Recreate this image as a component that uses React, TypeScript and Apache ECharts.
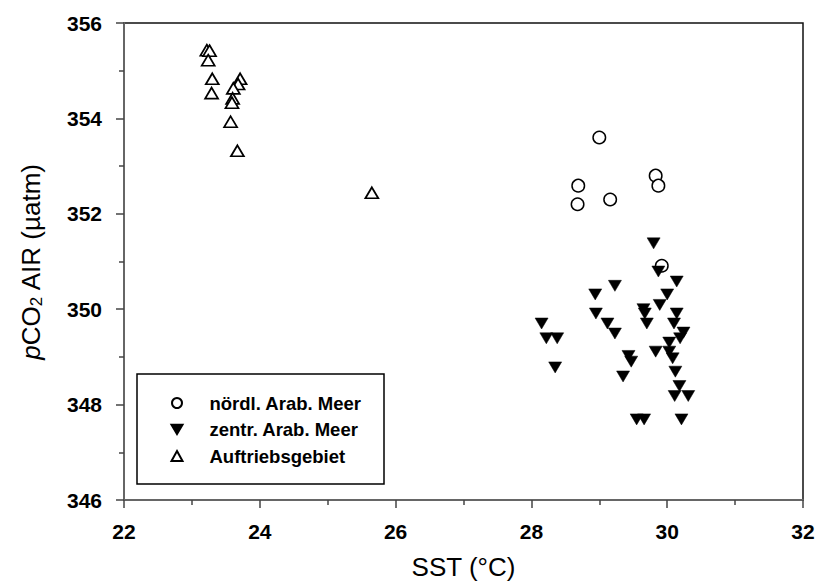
import React, { useEffect, useRef } from "react";
import * as echarts from "echarts";

const FONT = "'Liberation Sans', Arial, sans-serif";

// Series data: [SST (°C), pCO2 AIR (µatm)]
const nordlName = "nördl. Arab. Meer";
const nordlData: number[][] = [
  [29.0, 353.6],
  [28.69, 352.59],
  [28.68, 352.2],
  [29.16, 352.3],
  [29.83, 352.8],
  [29.87, 352.59],
  [29.92, 350.91],
];

const zentrName = "zentr. Arab. Meer";
const zentrData: number[][] = [
  [29.8, 351.38],
  [29.87, 350.79],
  [30.14, 350.58],
  [29.23, 350.49],
  [28.94, 350.31],
  [30.0, 350.31],
  [29.89, 350.09],
  [29.65, 350.0],
  [29.67, 349.91],
  [30.14, 349.91],
  [28.95, 349.91],
  [28.15, 349.7],
  [29.12, 349.7],
  [29.7, 349.7],
  [30.1, 349.7],
  [29.23, 349.49],
  [28.22, 349.39],
  [28.38, 349.39],
  [30.24, 349.51],
  [30.19, 349.39],
  [30.03, 349.3],
  [29.83, 349.11],
  [30.03, 349.11],
  [29.43, 349.02],
  [29.47, 348.9],
  [30.08, 348.97],
  [30.12, 348.69],
  [28.35, 348.78],
  [29.35, 348.59],
  [30.18, 348.39],
  [30.11, 348.18],
  [30.31, 348.18],
  [29.55, 347.69],
  [29.66, 347.69],
  [30.21, 347.69],
];

const auftrName = "Auftriebsgebiet";
const auftrData: number[][] = [
  [23.22, 355.43],
  [23.26, 355.42],
  [23.24, 355.22],
  [23.3, 354.83],
  [23.29, 354.53],
  [23.71, 354.83],
  [23.68, 354.72],
  [23.61, 354.63],
  [23.6, 354.42],
  [23.59, 354.33],
  [23.57, 353.93],
  [23.67, 353.32],
  [25.65, 352.44],
];

const xMin = 22, xMax = 32, xStep = 2;
const yMin = 346, yMax = 356, yStep = 2;

const DOWN_TRIANGLE = "path://M0,0L26,0L13,22Z";

export default function App() {
  const ref = useRef<HTMLDivElement>(null);
  useEffect(() => {
    if (!ref.current) return;
    const chart = echarts.init(ref.current, undefined, { renderer: "svg" });
    const axisCommon = {
      axisLine: { show: true, lineStyle: { color: "#666", width: 2 } },
      axisTick: { show: true, inside: false, length: 8, lineStyle: { color: "#444", width: 1.5 } },
      minorTick: { show: true, splitNumber: 2, length: 5, lineStyle: { color: "#444", width: 1.5 } },
      splitLine: { show: false },
      axisLabel: { fontFamily: FONT, fontSize: 21, fontWeight: "bold", color: "#000" },
    };
    chart.setOption({
      animation: false,
      grid: { left: 124, top: 23, right: 16, bottom: 85, show: true, borderColor: "#111", borderWidth: 1.5, containLabel: false },
      xAxis: {
        type: "value",
        min: xMin,
        max: xMax,
        interval: xStep,
        ...axisCommon,
        axisLabel: { ...axisCommon.axisLabel, margin: 21 },
        name: "SST (°C)",
        nameLocation: "middle",
        nameGap: 54,
        nameTextStyle: { fontFamily: FONT, fontSize: 26, color: "#000" },
      },
      yAxis: {
        type: "value",
        min: yMin,
        max: yMax,
        interval: yStep,
        ...axisCommon,
        axisLabel: { ...axisCommon.axisLabel, margin: 22 },
        name: "{i|p}{n|CO}{s|2}{n| AIR (µatm)}",
        nameLocation: "middle",
        nameGap: 79,
        nameTextStyle: {
          fontFamily: FONT,
          fontSize: 26,
          color: "#000",
          rich: {
            i: { fontFamily: FONT, fontSize: 26, fontStyle: "italic", color: "#000", lineHeight: 29 },
            n: { fontFamily: FONT, fontSize: 26, color: "#000", lineHeight: 29 },
            s: { fontFamily: FONT, fontSize: 17, color: "#000", verticalAlign: "bottom", lineHeight: 23 },
          },
        },
      },
      legend: {
        orient: "vertical",
        left: 165.5,
        top: 388,
        itemWidth: 11,
        itemHeight: 10,
        itemGap: 6.5,
        z: 5,
        textStyle: { fontFamily: FONT, fontSize: 18.5, fontWeight: "bold", color: "#000", lineHeight: 20, padding: [0, 0, 0, 22] },
        data: [nordlName, zentrName, auftrName],
      },
      graphic: [
        {
          type: "rect",
          z: 4,
          shape: { x: 137, y: 374, width: 247, height: 110 },
          style: { fill: "#fff", stroke: "#000", lineWidth: 1.5 },
        },
      ],
      series: [
        {
          name: nordlName,
          type: "scatter",
          data: nordlData,
          symbol: "circle",
          symbolSize: 12.5,
          itemStyle: { color: "#fff", borderColor: "#000", borderWidth: 1.5, opacity: 1 },
        },
        {
          name: zentrName,
          type: "scatter",
          data: zentrData,
          symbol: DOWN_TRIANGLE,
          symbolSize: [13, 11],
          itemStyle: { color: "#000", borderColor: "#000", borderWidth: 0.5, opacity: 1 },
        },
        {
          name: auftrName,
          type: "scatter",
          data: auftrData,
          symbol: "triangle",
          symbolSize: [13, 11],
          itemStyle: { color: "#fff", borderColor: "#000", borderWidth: 1.7, opacity: 1 },
        },
      ],
    });
    return () => chart.dispose();
  }, []);
  return <div ref={ref} style={{ position: "absolute", left: 0, top: 0, width: 819, height: 585 }} />;
}
